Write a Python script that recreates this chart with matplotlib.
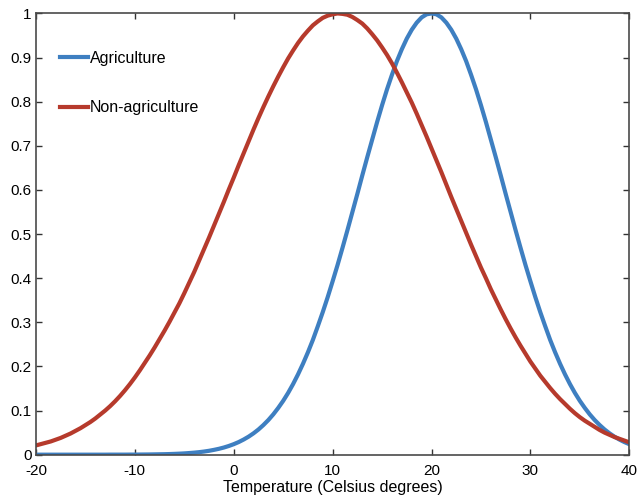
import matplotlib
matplotlib.use("Agg")
from matplotlib import pyplot as plt

# temperatures, every half degree
temps = [-20 + 0.5 * i for i in range(121)]

# agriculture curve, peak at 20 C
agriculture = [
    0.0, 0.0, 0.0, 0.0, 0.0, 0.0, 0.0, 0.0, 0.0, 0.0,
    0.0, 0.0, 0.0, 0.0, 0.0, 0.0001, 0.0001, 0.0001, 0.0001, 0.0002,
    0.0002, 0.0003, 0.0004, 0.0005, 0.0007, 0.0009, 0.0011, 0.0014, 0.0018, 0.0023,
    0.0029, 0.0037, 0.0046, 0.0057, 0.0071, 0.0088, 0.0109, 0.0133, 0.0162, 0.0197,
    0.0238, 0.0286, 0.0343, 0.0408, 0.0484, 0.0571, 0.0672, 0.0785, 0.0914, 0.106,
    0.122, 0.140, 0.160, 0.182, 0.206, 0.232, 0.260, 0.291, 0.323, 0.357,
    0.393, 0.430, 0.469, 0.509, 0.550, 0.591, 0.633, 0.674, 0.714, 0.754,
    0.792, 0.828, 0.861, 0.892, 0.919, 0.943, 0.963, 0.979, 0.991, 0.998,
    1.0,
    0.998, 0.991, 0.979, 0.963, 0.943, 0.919, 0.892, 0.861, 0.828, 0.792,
    0.754, 0.714, 0.674, 0.633, 0.591, 0.550, 0.509, 0.469, 0.430, 0.393,
    0.357, 0.323, 0.291, 0.260, 0.232, 0.206, 0.182, 0.160, 0.140, 0.122,
    0.106, 0.0914, 0.0785, 0.0672, 0.0571, 0.0484, 0.0408, 0.0343, 0.0286, 0.0238,
]

# non-agriculture curve, peak near 10.5 C
non_agriculture = [
    0.021, 0.024, 0.027, 0.030, 0.034, 0.038, 0.043, 0.048, 0.054, 0.060,
    0.067, 0.074, 0.082, 0.091, 0.100, 0.110, 0.121, 0.133, 0.146, 0.160,
    0.175, 0.191, 0.208, 0.225, 0.243, 0.262, 0.281, 0.301, 0.322, 0.343,
    0.366, 0.390, 0.414, 0.440, 0.466, 0.492, 0.519, 0.546, 0.573, 0.601,
    0.628, 0.656, 0.683, 0.710, 0.737, 0.763, 0.788, 0.812, 0.835, 0.857,
    0.878, 0.898, 0.916, 0.933, 0.948, 0.961, 0.973, 0.982, 0.990, 0.995,
    0.998, 1.0, 0.999, 0.997, 0.992, 0.985, 0.977, 0.966, 0.953, 0.939,
    0.923, 0.906, 0.887, 0.866, 0.844, 0.821, 0.798, 0.773, 0.747, 0.721,
    0.694, 0.667, 0.640, 0.612, 0.584, 0.557, 0.530, 0.503, 0.476, 0.450,
    0.424, 0.400, 0.375, 0.352, 0.329, 0.307, 0.286, 0.266, 0.247, 0.229,
    0.211, 0.195, 0.179, 0.165, 0.151, 0.138, 0.126, 0.115, 0.104, 0.094,
    0.085, 0.077, 0.070, 0.063, 0.056, 0.050, 0.045, 0.040, 0.036, 0.032,
    0.028,
]

x_ticks = [-20, -10, 0, 10, 20, 30, 40]
y_ticks = [0, 0.1, 0.2, 0.3, 0.4, 0.5, 0.6, 0.7, 0.8, 0.9, 1]
y_tick_labels = ["0", "0.1", "0.2", "0.3", "0.4", "0.5", "0.6", "0.7", "0.8", "0.9", "1"]

plt.rcParams['font.family'] = ['Liberation Sans', 'DejaVu Sans']
plt.rcParams['axes.unicode_minus'] = False

fig = plt.figure(figsize=(6.39, 4.98), dpi=100)
ax = fig.add_axes([0.0563, 0.087, 0.9285, 0.886])

ax.plot(temps, agriculture, color='#3e7fc1', lw=3, label='Agriculture')
ax.plot(temps, non_agriculture, color='#b63a2c', lw=3, label='Non-agriculture')

ax.set_xlim(-20, 40)
ax.set_ylim(0, 1)
ax.set_xticks(x_ticks)
ax.set_yticks(y_ticks)
ax.set_yticklabels(y_tick_labels)
ax.tick_params(direction='in', top=True, right=True, length=4, width=1,
               color='#333333', labelsize=11, pad=3)
# x labels sit a bit lower so they clear the "0" on the y axis
ax.tick_params(axis='x', pad=7)
for spine in ax.spines.values():
    spine.set_color('#4a4a4a')
    spine.set_linewidth(1.2)

ax.set_xlabel("Temperature (Celsius degrees)", fontsize=11.5, labelpad=1)

# legend without a box, entries far apart like the original
ax.legend(loc='upper left', bbox_to_anchor=(0.04, 0.915), frameon=False,
          borderpad=0, borderaxespad=0, fontsize=11.5, handlelength=1.75,
          handletextpad=0.12, labelspacing=2.15)

fig.savefig("out.png", dpi=100)
